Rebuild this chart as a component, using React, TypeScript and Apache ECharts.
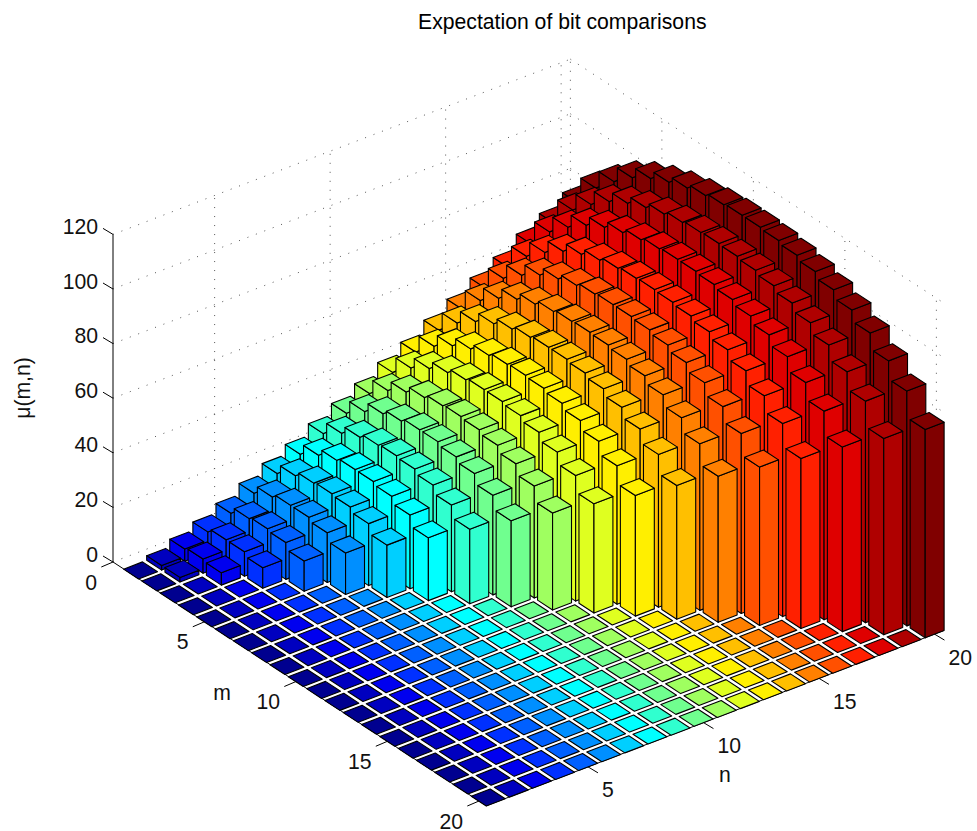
import React, { useEffect, useRef } from "react";
import * as echarts from "echarts";

const titleText = "Expectation of bit comparisons";
const zTicks = [0, 20, 40, 60, 80, 100, 120];
const mTicks = [0, 5, 10, 15, 20];
const nTicks = [5, 10, 15, 20];
const mMax = 20.4;
const nMin = 0.6;
const nMax = 20.4;

// colour of each n column (n = 1 .. 20)
const columnColors = [
  "#00008F", "#0000BF", "#0000EF", "#0030FF", "#0060FF", "#008FFF", "#00CFFF", "#00FFFF", "#30FFCF", "#70FF8F",
  "#9FFF60", "#DFFF20", "#FFEF00", "#FFBF00", "#FF8000", "#FF5000", "#FF2000", "#DF0000", "#AF0000", "#800000",
];

// mu(m, n) for m = 1 .. n (m > n is 0)
const mu01 = [0];
const mu02 = [1.7, 1.7];
const mu03 = [4.5, 5.2, 4.5];
const mu04 = [7.5, 9, 9, 7.5];
const mu05 = [11.1, 13.5, 14.2, 13.5, 11.1];
const mu06 = [15.2, 18.2, 19.5, 19.5, 18.2, 15.2];
const mu07 = [19.2, 22.7, 24.4, 24.9, 24.4, 22.7, 19.2];
const mu08 = [23, 27, 29.5, 30.5, 30.5, 29.5, 27, 23];
const mu09 = [27.3, 31.8, 34.7, 36.2, 36.7, 36.2, 34.7, 31.8, 27.3];
const mu10 = [31.5, 36.5, 40.1, 41.8, 43, 43, 41.8, 40.1, 36.5, 31.5];
const mu11 = [35.5, 41, 44.8, 47.2, 48.5, 49, 48.5, 47.2, 44.8, 41, 35.5];
const mu12 = [40, 46, 50.2, 53.1, 54.8, 55.6, 55.6, 54.8, 53.1, 50.2, 46, 40];
const mu13 = [44.2, 50.7, 55.3, 58.5, 60.5, 61.6, 62, 61.6, 60.5, 58.5, 55.3, 50.7, 44.2];
const mu14 = [49, 56, 60.9, 64.5, 66.9, 68.3, 69, 69, 68.3, 66.9, 64.5, 60.9, 56, 49];
const mu15 = [53.5, 61, 66.2, 70.2, 72.8, 74.5, 75.3, 75.6, 75.3, 74.5, 72.8, 70.2, 66.2, 61, 53.5];
const mu16 = [58, 65.9, 71.4, 75.8, 78.8, 80.8, 82, 82.5, 82.5, 82, 80.8, 78.8, 75.8, 71.4, 65.9, 58];
const mu17 = [62.3, 70.7, 76.5, 81.3, 84.6, 86.8, 88.2, 88.9, 89.2, 88.9, 88.2, 86.8, 84.6, 81.3, 76.5, 70.7, 62.3];
const mu18 = [67.6, 76.4, 82.5, 87.6, 91.2, 93.7, 95.4, 96.5, 97, 97, 96.5, 95.4, 93.7, 91.2, 87.6, 82.5, 76.4, 67.6];
const mu19 = [71.9, 81.2, 87.6, 93, 96.8, 99.6, 101.6, 102.9, 103.6, 103.9, 103.6, 102.9, 101.6, 99.6, 96.8, 93, 87.6, 81.2, 71.9];
const mu20 = [76.3, 86, 92.7, 98.5, 102.6, 105.6, 107.9, 109.5, 110.5, 111, 111, 110.5, 109.5, 107.9, 105.6, 102.6, 98.5, 92.7, 86, 76.3];
const columns = [mu01, mu02, mu03, mu04, mu05, mu06, mu07, mu08, mu09, mu10, mu11, mu12, mu13, mu14, mu15, mu16, mu17, mu18, mu19, mu20];

const FONT = '"Liberation Sans", Arial, sans-serif';
const FONT_SIZE = 21.2;
const HALF = 0.41;

function project(m: number, n: number, z: number): [number, number] {
  return [
    113 + 18.3 * m + 23.1 * (n - nMin),
    562 + 11.95 * m - 8.85 * (n - nMin) - 2.73 * z,
  ];
}

// painter's order: far corner (small m, large n) first
function buildBars() {
  const rows: number[][] = [];
  for (let m = 1; m <= 20; m++) {
    for (let n = 20; n >= 1; n--) {
      rows.push([m, n, m <= n ? columns[n - 1][m - 1] : 0]);
    }
  }
  return rows;
}

function buildGrid() {
  const segs: number[][] = [];
  for (const z of zTicks) {
    segs.push([0, nMin, z, 0, nMax, z]);
    segs.push([0, nMax, z, mMax, nMax, z]);
  }
  for (const n of nTicks) segs.push([0, n, 0, 0, n, zTicks[zTicks.length - 1]]);
  for (const m of mTicks) segs.push([m, nMax, 0, m, nMax, zTicks[zTicks.length - 1]]);
  return segs;
}

function buildAxes() {
  const top = zTicks[zTicks.length - 1];
  return [
    [0, nMin, 0, mMax, nMin, 0, 0, 0],
    [mMax, nMin, 0, mMax, nMax, 0, 0, 0],
    [0, nMin, 0, 0, nMin, top, 0, 0],
    ...zTicks.map((z) => [0, nMin, z, 0, nMin, z, -10, -6]),
    ...mTicks.map((m) => [m, nMin, 0, m, nMin, 0, -11.7, 5]),
    ...nTicks.map((n) => [mMax, n, 0, mMax, n, 0, 10, 6]),
  ];
}

function renderLine(dash: number[] | null, color: string) {
  return (_: any, api: any) => {
    const a = project(api.value(0), api.value(1), api.value(2));
    const b = project(api.value(3), api.value(4), api.value(5));
    return {
      type: "line",
      shape: { x1: a[0], y1: a[1], x2: b[0] + (api.value(6) || 0), y2: b[1] + (api.value(7) || 0) },
      style: { stroke: color, lineWidth: 1, lineDash: dash || undefined, fill: null },
      silent: true,
    };
  };
}

function renderBar(_: any, api: any) {
  const m = api.value(0);
  const n = api.value(1);
  const z = api.value(2);
  const color = columnColors[n - 1];
  const m0 = m - HALF, m1 = m + HALF, n0 = n - HALF, n1 = n + HALF;
  const style = { fill: color, stroke: "#000", lineWidth: 1.1, lineJoin: "round" };
  const poly = (pts: [number, number][]) => ({ type: "polygon", shape: { points: pts }, style, silent: true });
  const children: any[] = [];
  if (z > 0) {
    children.push(poly([project(m0, n0, 0), project(m1, n0, 0), project(m1, n0, z), project(m0, n0, z)]));
    children.push(poly([project(m1, n0, 0), project(m1, n1, 0), project(m1, n1, z), project(m1, n0, z)]));
  }
  children.push(poly([project(m0, n0, z), project(m1, n0, z), project(m1, n1, z), project(m0, n1, z)]));
  return { type: "group", children, silent: true };
}

function tickLabels() {
  const base = { fill: "#111", font: `${FONT_SIZE}px ${FONT}`, verticalAlign: "middle" };
  const out: any[] = [];
  for (const z of zTicks) {
    const p = project(0, nMin, z);
    out.push({ type: "text", x: 98, y: p[1] - 8, silent: true, style: { ...base, text: String(z), align: "right" } });
  }
  for (const m of mTicks) {
    const p = project(m, nMin, 0);
    out.push({ type: "text", x: p[0] - 16, y: p[1] + 20, silent: true, style: { ...base, text: String(m), align: "right" } });
  }
  for (const n of nTicks) {
    const p = project(mMax, n, 0);
    out.push({ type: "text", x: p[0] + 14, y: p[1] + 23, silent: true, style: { ...base, text: String(n), align: "left" } });
  }
  const lab = { ...base, align: "center" };
  out.push({ type: "text", x: 222, y: 692, silent: true, style: { ...lab, text: "m" } });
  out.push({ type: "text", x: 725, y: 774, silent: true, style: { ...lab, text: "n" } });
  out.push({ type: "text", x: 22, y: 388, rotation: Math.PI / 2, silent: true, style: { ...lab, text: "\u03bc(m,n)" } });
  return out;
}

export default function App() {
  const ref = useRef<HTMLDivElement>(null);
  useEffect(() => {
    const chart = echarts.init(ref.current!, undefined, { renderer: "svg" });
    chart.setOption({
      animation: false,
      backgroundColor: "#fff",
      title: {
        text: titleText,
        left: 413,
        top: 6,
        textStyle: { fontFamily: FONT, fontSize: FONT_SIZE, fontWeight: "normal", color: "#000" },
      },
      graphic: { elements: tickLabels() },
      series: [
        {
          type: "custom",
          coordinateSystem: "none",
          silent: true,
          data: buildGrid(),
          renderItem: renderLine([1, 8], "#555"),
        },
        {
          type: "custom",
          coordinateSystem: "none",
          silent: true,
          data: buildAxes(),
          renderItem: renderLine(null, "#000"),
        },
        {
          type: "custom",
          coordinateSystem: "none",
          silent: true,
          data: buildBars(),
          renderItem: renderBar,
        },
      ],
    });
    return () => chart.dispose();
  }, []);
  return <div ref={ref} style={{ position: "absolute", left: 0, top: 0, width: 977, height: 831 }} />;
}
